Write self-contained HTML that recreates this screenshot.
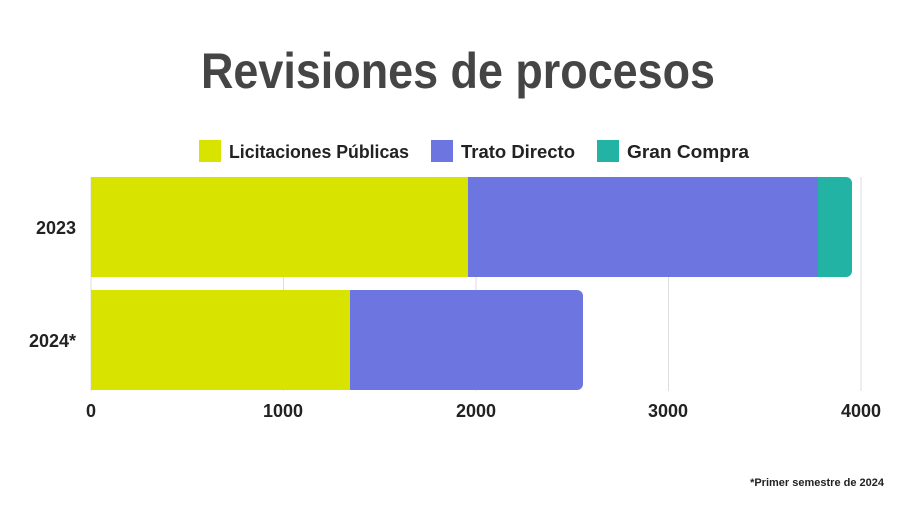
<!DOCTYPE html>
<html><head><meta charset="utf-8"><style>
body{margin:0;width:917px;height:513px;background:#fff;overflow:hidden;font-family:"Liberation Sans",sans-serif;}
</style></head><body>
<svg width="917" height="513" xmlns="http://www.w3.org/2000/svg" font-family="Liberation Sans, sans-serif">
<text x="201" y="88" font-size="50" font-weight="bold" fill="#454545" textLength="514" lengthAdjust="spacingAndGlyphs">Revisiones de procesos</text>
<rect x="199" y="140" width="22" height="22" fill="#d8e300"/>
<text x="229" y="158" font-size="18" font-weight="bold" fill="#222" textLength="180" lengthAdjust="spacingAndGlyphs">Licitaciones Públicas</text>
<rect x="431" y="140" width="22" height="22" fill="#6d76e0"/>
<text x="461" y="158" font-size="18" font-weight="bold" fill="#222" textLength="114" lengthAdjust="spacingAndGlyphs">Trato Directo</text>
<rect x="597" y="140" width="22" height="22" fill="#22b3a5"/>
<text x="627" y="158" font-size="18" font-weight="bold" fill="#222" textLength="122" lengthAdjust="spacingAndGlyphs">Gran Compra</text>
<g stroke="#ddd" stroke-width="1">
<line x1="91" y1="177" x2="91" y2="391"/><line x1="283.5" y1="177" x2="283.5" y2="391"/><line x1="476" y1="177" x2="476" y2="391"/><line x1="668.5" y1="177" x2="668.5" y2="391"/><line x1="861" y1="177" x2="861" y2="391"/>
</g>
<path d="M818 177 H846 a6 6 0 0 1 6 6 V271 a6 6 0 0 1 -6 6 H818Z" fill="#22b3a5"/>
<rect x="468" y="177" width="350" height="100" fill="#6d76e0"/>
<rect x="91" y="177" width="377" height="100" fill="#d8e300"/>
<path d="M350 290 H577 a6 6 0 0 1 6 6 V384 a6 6 0 0 1 -6 6 H350Z" fill="#6d76e0"/>
<rect x="91" y="290" width="259" height="100" fill="#d8e300"/>
<text x="76" y="234" text-anchor="end" font-size="18" font-weight="bold" fill="#222">2023</text>
<text x="76" y="347" text-anchor="end" font-size="18" font-weight="bold" fill="#222">2024*</text>
<g font-size="18" font-weight="bold" fill="#222" text-anchor="middle">
<text x="91" y="417">0</text><text x="283" y="417">1000</text><text x="476" y="417">2000</text><text x="668" y="417">3000</text><text x="861" y="417">4000</text>
</g>
<text x="884" y="486" text-anchor="end" font-size="11" font-weight="bold" fill="#222">*Primer semestre de 2024</text>
</svg>
</body></html>
